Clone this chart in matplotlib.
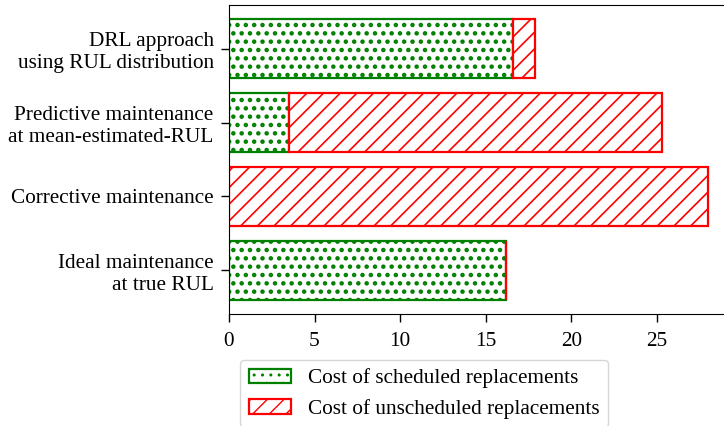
import matplotlib
matplotlib.use("Agg")
import matplotlib.pyplot as plt
import numpy as np

plt.rcParams['font.family'] = ['Liberation Serif', 'DejaVu Serif']

# data
strategies = [
    "Ideal maintenance\nat true RUL",
    "Corrective maintenance",
    "Predictive maintenance\nat mean-estimated-RUL",
    "DRL approach\nusing RUL distribution",
]
scheduled_cost = [16.2, 0.0, 3.5, 16.6]
unscheduled_cost = [0.0, 28.0, 21.8, 1.3]
x_ticks = [0, 5, 10, 15, 20, 25]

fig = plt.figure(figsize=(7.24, 4.26), dpi=100)
# axes run past the right edge, as in the (cropped) reference
ax = fig.add_axes([229 / 724, 1 - 314 / 426, 503 / 724, 309 / 426])

y = np.arange(len(strategies))
with plt.rc_context({'hatch.linewidth': 2.0}):
    ax.barh(y, scheduled_cost, height=0.8, color='white', edgecolor='green',
            hatch='..', linewidth=1.6, label='Cost of scheduled replacements')
with plt.rc_context({'hatch.linewidth': 1.2}):
    ax.barh(y, unscheduled_cost, left=scheduled_cost, height=0.8, color='white',
            edgecolor='red', hatch='//', linewidth=1.6,
            label='Cost of unscheduled replacements')

fs = 15.3
ax.set_yticks(y)
ax.set_yticklabels(strategies, fontsize=fs)
ax.set_xticks(x_ticks)
ax.set_xticklabels([str(t) for t in x_ticks], fontsize=fs)
ax.tick_params(length=6, width=1.0)
ax.tick_params(axis='x', pad=7)
ax.tick_params(axis='y', pad=5)
ax.set_xlim(0, 29.4)

handles, labels = ax.get_legend_handles_labels()
fig.legend(handles, labels, loc='upper left', fontsize=fs,
           bbox_to_anchor=(240 / 724, 1 - 360 / 426), borderaxespad=0)

fig.savefig('out.png', dpi=100)
